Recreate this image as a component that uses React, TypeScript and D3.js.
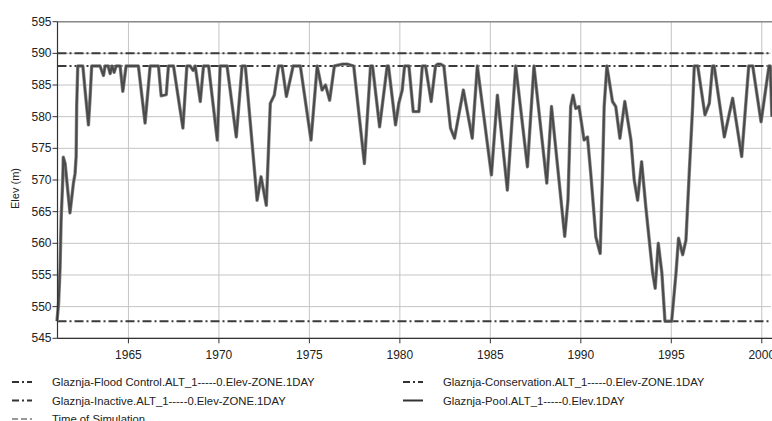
import React from "react";
import * as d3 from "d3";

// Reservoir zone elevations (m)
const floodControlElev = 590;
const conservationElev = 588;
const inactiveElev = 547.7;

// Pool elevation, daily series sampled at turning points (decimal year, m)
const poolYears = [
  1961.05, 1961.14, 1961.22, 1961.28, 1961.37, 1961.4, 1961.5, 1961.59, 1961.77, 1961.96,
  1962.05, 1962.11, 1962.14, 1962.2, 1962.48, 1962.61, 1962.79, 1962.88, 1962.97, 1963.43,
  1963.62, 1963.71, 1963.88, 1963.99, 1964.1, 1964.21, 1964.32, 1964.54, 1964.69, 1964.87,
  1965.55, 1965.92, 1966.2, 1966.66, 1966.81, 1967.09, 1967.21, 1967.49, 1968.01, 1968.23,
  1968.41, 1968.58, 1968.69, 1968.97, 1969.15, 1969.43, 1969.91, 1970.07, 1970.45, 1970.96,
  1971.28, 1971.46, 1972.11, 1972.33, 1972.62, 1972.84, 1973.06, 1973.3, 1973.49, 1973.73,
  1973.95, 1974.1, 1974.5, 1975.09, 1975.43, 1975.7, 1975.89, 1976.12, 1976.38, 1976.83,
  1977.1, 1977.45, 1978.04, 1978.38, 1978.49, 1978.88, 1979.3, 1979.37, 1979.76, 1979.94,
  1980.13, 1980.26, 1980.5, 1980.74, 1981.05, 1981.24, 1981.42, 1981.73, 1981.97, 1982.08,
  1982.25, 1982.43, 1982.8, 1983.02, 1983.26, 1983.51, 1984.0, 1984.28, 1985.06, 1985.39,
  1985.94, 1986.4, 1987.05, 1987.41, 1988.12, 1988.38, 1989.11, 1989.29, 1989.44, 1989.57,
  1989.72, 1989.9, 1990.18, 1990.37, 1990.55, 1990.83, 1991.07, 1991.2, 1991.29, 1991.44,
  1991.75, 1991.93, 1992.16, 1992.43, 1992.77, 1992.95, 1993.14, 1993.36, 1993.59, 1993.97,
  1994.11, 1994.28, 1994.48, 1994.65, 1995.02, 1995.26, 1995.4, 1995.63, 1995.81, 1995.99,
  1996.18, 1996.27, 1996.46, 1996.86, 1997.1, 1997.28, 1997.37, 1997.93, 1998.39, 1998.89,
  1999.28, 1999.5, 1999.96, 2000.4, 2000.47, 2000.56,
];
const poolElev = [
  547.7, 550.5, 556.0, 563.7, 570.0, 573.6, 572.6, 570.0, 564.8, 569.5,
  571.0, 573.7, 581.6, 588.0, 588.0, 584.0, 578.7, 583.0, 588.0, 588.0,
  586.5, 588.0, 588.0, 586.8, 588.0, 587.0, 588.0, 588.0, 584.0, 588.0,
  588.0, 579.0, 588.0, 588.0, 583.3, 583.5, 588.0, 588.0, 578.2, 588.0,
  588.0, 587.3, 588.0, 582.4, 588.0, 588.0, 576.3, 588.0, 588.0, 576.8,
  588.0, 588.0, 566.8, 570.5, 566.0, 582.1, 583.4, 588.0, 588.0, 583.2,
  586.0, 588.0, 588.0, 576.3, 588.0, 584.2, 585.0, 582.6, 588.0, 588.3,
  588.3, 588.0, 572.6, 588.0, 588.0, 578.4, 588.0, 588.0, 578.7, 582.1,
  584.2, 588.0, 588.0, 580.8, 580.8, 588.0, 588.0, 582.4, 588.0, 588.3,
  588.3, 588.0, 578.2, 576.6, 580.3, 584.2, 576.6, 588.0, 570.8, 583.4,
  568.4, 588.0, 572.1, 588.0, 569.5, 581.6, 561.1, 566.8, 581.6, 583.4,
  581.3, 581.6, 576.3, 576.8, 571.0, 561.0, 558.4, 571.0, 581.6, 588.0,
  582.4, 581.6, 576.6, 582.4, 576.3, 570.0, 566.8, 572.9, 565.8, 555.3,
  552.9, 560.0, 555.3, 547.7, 547.7, 555.3, 560.8, 558.2, 560.5, 571.0,
  581.6, 588.0, 588.0, 580.3, 582.1, 588.0, 588.0, 576.8, 582.9, 573.7,
  588.0, 588.0, 579.2, 588.0, 588.0, 580.0,
];

const yearTicks = [1965, 1970, 1975, 1980, 1985, 1990, 1995, 2000];
const elevTicks = [545, 550, 555, 560, 565, 570, 575, 580, 585, 590, 595];

const legendLabels = [
  "Glaznja-Flood Control.ALT_1-----0.Elev-ZONE.1DAY",
  "Glaznja-Conservation.ALT_1-----0.Elev-ZONE.1DAY",
  "Glaznja-Inactive.ALT_1-----0.Elev-ZONE.1DAY",
  "Glaznja-Pool.ALT_1-----0.Elev.1DAY",
  "Time of Simulation",
];

const W = 772;
const H = 421;
const left = 57.5;
const right = 771;
const top = 21.7;
const bottom = 338.3;
const FONT = "'Liberation Sans', Arial, sans-serif";
const DASH_DOT = "9,3,2,3";

export default function App() {
  const x = d3.scaleLinear().domain([1961.08, 2000.51]).range([left, right]);
  const y = d3.scaleLinear().domain([545, 595]).range([bottom, top]);

  const pool = poolYears.map((t, i) => [t, poolElev[i]] as [number, number]);
  const line = d3
    .line<[number, number]>()
    .x((d) => x(d[0]))
    .y((d) => y(d[1]));

  const zoneLine = (v: number, key: string) => (
    <line
      key={key}
      x1={left}
      x2={right}
      y1={y(v)}
      y2={y(v)}
      stroke="#3a3a3a"
      strokeWidth={2}
      strokeDasharray={DASH_DOT}
    />
  );

  const legendRows = [
    { col: 0, row: 0, label: legendLabels[0], dash: DASH_DOT },
    { col: 1, row: 0, label: legendLabels[1], dash: DASH_DOT },
    { col: 0, row: 1, label: legendLabels[2], dash: DASH_DOT },
    { col: 1, row: 1, label: legendLabels[3], dash: "" },
    { col: 0, row: 2, label: legendLabels[4], dash: "6,3" },
  ];
  const colX = [12, 403];
  const textX = [52, 443];
  const rowY = [382, 400.5, 419];

  return (
    <svg
      width={W}
      height={H}
      style={{ position: "absolute", left: 0, top: 0, background: "#fff" }}
      fontFamily={FONT}
    >
      <rect x={0} y={0} width={W} height={H} fill="#fff" />
      {/* grid */}
      {yearTicks.map((t) => (
        <line key={"gx" + t} x1={x(t)} x2={x(t)} y1={top} y2={bottom} stroke="#c4c4c4" strokeWidth={1} />
      ))}
      {elevTicks.map((v) => (
        <line key={"gy" + v} x1={left} x2={right} y1={y(v)} y2={y(v)} stroke="#c4c4c4" strokeWidth={1} />
      ))}
      {/* top frame */}
      <line x1={left} x2={W} y1={top} y2={top} stroke="#8a8a8a" strokeWidth={1.5} />

      {/* zone lines */}
      {zoneLine(floodControlElev, "fc")}
      {zoneLine(conservationElev, "cons")}
      {zoneLine(inactiveElev, "inact")}

      {/* pool */}
      <path d={line(pool) || ""} fill="none" stroke="#8a8a8a" strokeWidth={3.4} strokeLinejoin="round" />
      <path d={line(pool) || ""} fill="none" stroke="#4a4a4a" strokeWidth={2} strokeLinejoin="round" />

      {/* axes */}
      <line x1={left} x2={left} y1={top} y2={bottom} stroke="#333" strokeWidth={1.2} />
      <line x1={left} x2={W} y1={bottom} y2={bottom} stroke="#333" strokeWidth={1.2} />
      {elevTicks.map((v) => (
        <g key={"ty" + v}>
          <line x1={left - 5} x2={left} y1={y(v)} y2={y(v)} stroke="#333" />
          <text x={left - 6} y={y(v) + 4} textAnchor="end" fontSize={12} fill="#222">
            {v}
          </text>
        </g>
      ))}
      {yearTicks.map((t) => (
        <g key={"tx" + t}>
          <line x1={x(t)} x2={x(t)} y1={bottom} y2={bottom + 5} stroke="#333" />
          <text x={x(t)} y={bottom + 21} textAnchor="middle" fontSize={12} fill="#222">
            {t}
          </text>
        </g>
      ))}
      <text
        transform={`translate(19,188.5) rotate(-90)`}
        textAnchor="middle"
        fontSize={11}
        fill="#222"
      >
        Elev (m)
      </text>

      {/* legend */}
      {legendRows.map((r) => (
        <g key={r.label}>
          <line
            x1={colX[r.col]}
            x2={colX[r.col] + 20}
            y1={rowY[r.row]}
            y2={rowY[r.row]}
            stroke="#333"
            strokeWidth={r.dash === "6,3" ? 1 : 2}
            strokeDasharray={r.dash === DASH_DOT ? "7,3,2,3" : r.dash || undefined}
          />
          <text x={textX[r.col]} y={rowY[r.row] + 4} fontSize={11.3} fill="#222">
            {r.label}
          </text>
        </g>
      ))}
    </svg>
  );
}
